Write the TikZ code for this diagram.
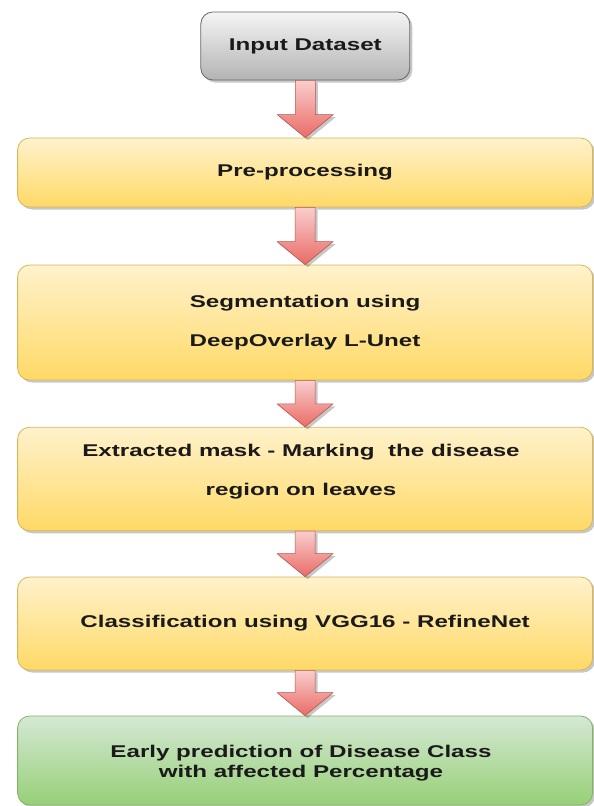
\documentclass[tikz,border=0pt]{standalone}
\usepackage{fontspec}
\setmainfont{Liberation Sans}
\newfontfamily\labfont[FakeStretch=1.42]{Liberation Sans}
\usetikzlibrary{calc,shadows}
\definecolor{txt}{HTML}{1A1A1A}
\definecolor{ytop}{HTML}{FFF2CC}
\definecolor{ybot}{HTML}{FFD966}
\definecolor{ystroke}{HTML}{D6B656}
\definecolor{gtop}{HTML}{F5F5F5}
\definecolor{gbot}{HTML}{B3B3B3}
\definecolor{gstroke}{HTML}{666666}
\definecolor{ntop}{HTML}{D5E8D4}
\definecolor{nbot}{HTML}{97D077}
\definecolor{nstroke}{HTML}{82B366}
\definecolor{rtop}{HTML}{F8CECC}
\definecolor{rbot}{HTML}{EA6B66}
\definecolor{rstroke}{HTML}{B85450}
\tikzset{
  softshadow/.style={drop shadow={shadow xshift=2.5pt, shadow yshift=-2.5pt, opacity=0.22, fill=black}},
  lab/.style={font=\labfont\bfseries\fontsize{17}{20}\selectfont, text=txt, align=center},
  box/.style={rectangle, rounded corners=12pt, line width=0.8pt, lab, softshadow},
  ybox/.style={box, draw=ystroke, top color=ytop, bottom color=ybot},
  gbox/.style={box, draw=gstroke, top color=gtop, bottom color=gbot},
  nbox/.style={box, draw=nstroke, top color=ntop, bottom color=nbot},
  fatarr/.style={draw=rstroke, line width=0.6pt, top color=rtop, bottom color=rbot, line join=round, softshadow},
}
\newcommand\fatarrow[2]{%
  \path[fatarr] let \p1=(#1.south), \p2=(#2.north) in
    (\x1-10pt,\y1) -- (\x1+10pt,\y1) -- (\x1+10pt,\y2+23pt) -- (\x1+28pt,\y2+23pt)
    -- (\x1,\y2) -- (\x1-28pt,\y2+23pt) -- (\x1-10pt,\y2+23pt) -- cycle;}
\begin{document}
\begin{tikzpicture}[x=1pt,y=-1pt]
\useasboundingbox (0,0) rectangle (594,806);
\node[gbox, minimum width=209pt, minimum height=68pt] (input) at (305.3,46) {Input Dataset};
\node[ybox, minimum width=575pt, minimum height=69pt] (pre) at (305.1,172.5) {Pre-processing};
\node[ybox, minimum width=575pt, minimum height=115pt] (seg) at (305.1,322.5) {Segmentation using\\[19.7pt]DeepOverlay L-Unet};
\node[ybox, minimum width=575pt, minimum height=103.5pt] (ext) at (305.1,479) {};
\node[lab] (extlab) at (301,471.2) {Extracted mask - Marking~ the disease\\[19pt]region on leaves};
\node[ybox, minimum width=575pt, minimum height=93pt] (cls) at (305.1,623.5) {Classification using VGG16 - RefineNet};
\node[nbox, minimum width=575pt, minimum height=89pt] (fin) at (305.1,760.5) {};
\node[lab] (finlab) at (301,763) {Early prediction of Disease Class\\with affected Percentage};
\fatarrow{input}{pre}
\fatarrow{pre}{seg}
\fatarrow{seg}{ext}
\fatarrow{ext}{cls}
\fatarrow{cls}{fin}
\end{tikzpicture}
\end{document}
